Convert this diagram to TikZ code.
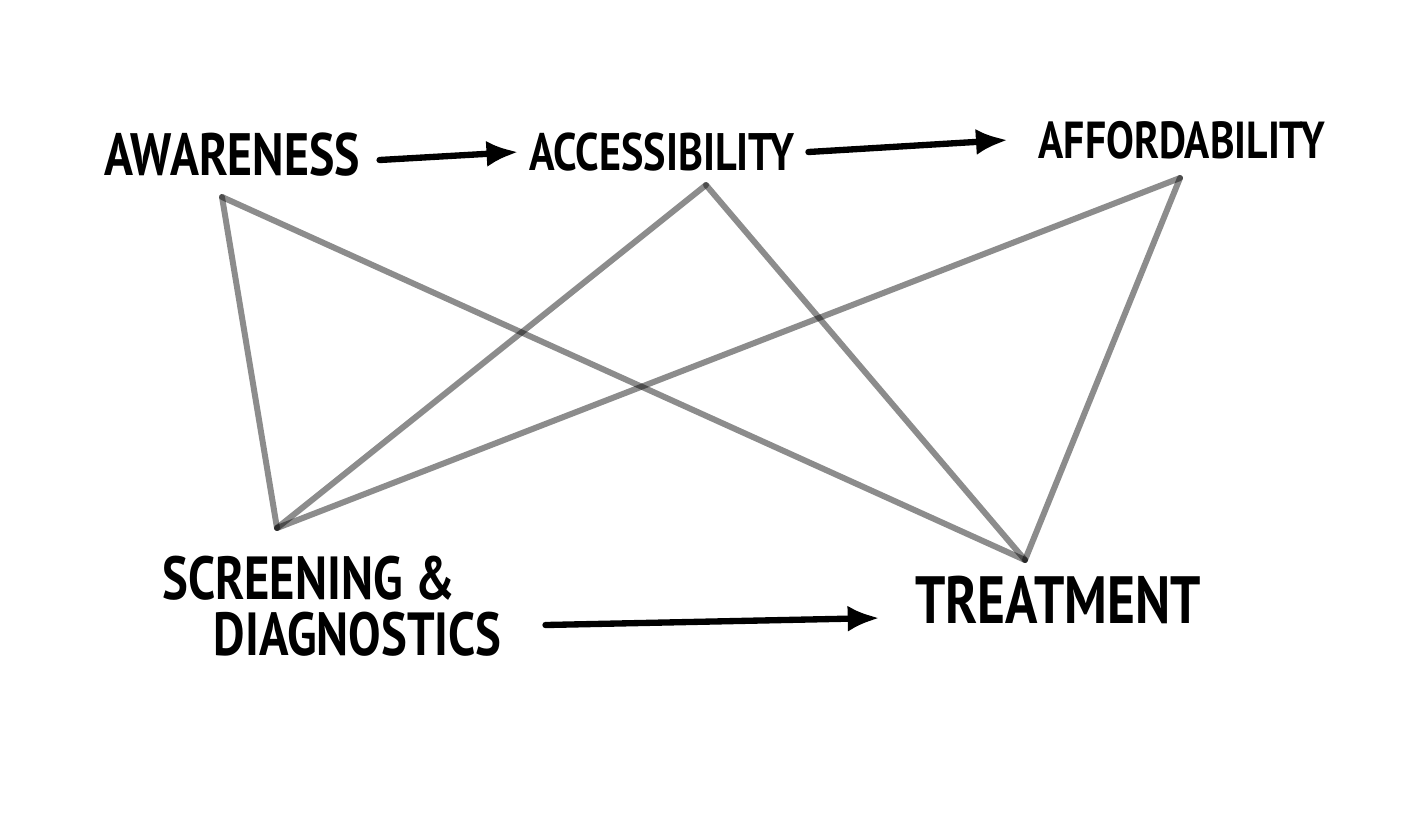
\documentclass[tikz,border=0pt]{standalone}
\usepackage{fontspec}
\setmainfont{PT Sans}[FakeStretch=0.8]
\usetikzlibrary{arrows.meta,positioning}

\begin{document}
\begin{tikzpicture}[x=0.01cm, y=-0.01cm,
  lbl/.style={font=\bfseries\fontsize{#1}{16}\selectfont, inner sep=0pt, align=center},
  lbl/.default=16,
  arr/.style={-{Latex[length=3.2mm, width=2.6mm]}, line width=1.8pt, line cap=round},
  link/.style={draw=black, draw opacity=0.45, line width=1.7pt, line cap=round}]
\useasboundingbox (0,0) rectangle (1427,839);
\node[lbl=17] (aw) at (232,155) {AWARENESS};
\node[lbl=15] (ac) at (662,152) {ACCESSIBILITY};
\node[lbl=14.8] (af) at (1182,140) {AFFORDABILITY};
\node[lbl=17.3, align=left] (sd) at (332,606) {SCREENING \&\\\hspace*{0.85em}DIAGNOSTICS};
\node[lbl=19] (tr) at (1058,600) {TREATMENT};
% ends of the crossing lines
\coordinate (awB) at (222,197);
\coordinate (acB) at (706,185);
\coordinate (afB) at (1180,178);
\coordinate (sdT) at (277,528);
\coordinate (trT) at (1025,560);
\draw[link] (awB) -- (sdT);
\draw[link] (awB) -- (trT);
\draw[link] (acB) -- (sdT);
\draw[link] (acB) -- (trT);
\draw[link] (afB) -- (sdT);
\draw[link] (afB) -- (trT);
\draw[arr] ([xshift=1.9mm,yshift=-0.5mm]aw.east) -- ([xshift=-1mm]ac.west);
\draw[arr] ([xshift=1.3mm]ac.east) -- ([xshift=-3mm]af.west);
\draw[arr] ([xshift=4.3mm,yshift=-1.9mm]sd.east) -- ([xshift=-3.5mm,yshift=-1.8mm]tr.west);
\end{tikzpicture}
\end{document}
